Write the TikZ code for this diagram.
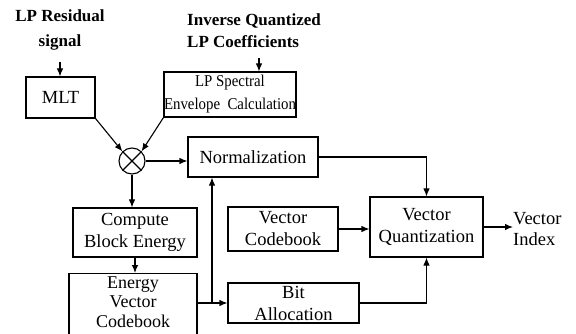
\documentclass[tikz,border=0pt]{standalone}
\usepackage{fontspec}
\setmainfont{Liberation Serif}
\newfontfamily\narrowserif[FakeStretch=0.9]{Liberation Serif}
\usetikzlibrary{arrows.meta}
\begin{document}
\begin{tikzpicture}[x=1pt,y=-1pt,
  box/.style={draw, line width=1.1pt, inner sep=0pt, align=center, font=\fontsize{18.5}{22}\selectfont},
  arr/.style={line width=1.1pt, -{Latex[length=8pt,width=6.5pt]}},
  ttl/.style={font=\bfseries\fontsize{17}{23}\selectfont, inner sep=0pt}]
\useasboundingbox (0,0) rectangle (576,334);
\clip (0,0) rectangle (576,334);
\node[box, minimum width=69pt, minimum height=41pt] (mlt) at (60.5,97.5) {MLT};
\node[box, minimum width=130pt, minimum height=45pt, font=\narrowserif\fontsize{16.5}{23}\selectfont] (lps) at (230,94.5) {LP Spectral\\Envelope\ \ Calculation};
\node[draw, circle, line width=1.1pt, minimum size=26pt, inner sep=0pt] (mul) at (132,161) {};
\draw[line width=1.1pt] (mul.north west) -- (mul.south east) (mul.north east) -- (mul.south west);
\node[box, minimum width=130pt, minimum height=40pt] (norm) at (253,157) {Normalization};
\node[box, minimum width=113pt, minimum height=60pt] (vq) at (426.5,227) {Vector\\Quantization};
\node[box, minimum width=110pt, minimum height=44pt] (vc) at (283,229) {Vector\\Codebook};
\node[box, minimum width=131pt, minimum height=40pt] (ba) at (293.5,303) {Bit\\Allocation};
\node[box, minimum width=124pt, minimum height=49pt] (cbe) at (135,232.5) {Compute\\Block Energy};
\node[box, minimum width=128pt, minimum height=64pt, anchor=north] (evc) at (133,273) {};
\node[align=center, inner sep=0pt, font=\fontsize{18}{19.5}\selectfont] (evct) at (133,302) {Energy\\Vector\\Codebook};
\node[ttl, align=center, font=\bfseries\fontsize{17}{25}\selectfont] (t1) at (60,29.5) {LP Residual\\signal};
\node[ttl, align=left, anchor=west, font=\bfseries\fontsize{17}{22}\selectfont] (t2) at (187,31) {Inverse Quantized\\LP Coefficients};
\node[align=left, anchor=west, inner sep=0pt, font=\fontsize{18.5}{21}\selectfont] (vi) at (513,229.5) {Vector\\Index};
\coordinate (a1) at (60,62);
\coordinate (a2) at (259,58);
\coordinate (j) at (212,0);
\draw[arr] (a1) -- (a1 |- mlt.north);
\draw[arr] (a2) -- (a2 |- lps.north);
\draw[arr] (mlt.south east) -- (mul.north west);
\draw[arr] (lps.south west) -- (mul.north east);
\draw[arr] (mul.east) -- (mul.east -| norm.west);
\draw[arr] (mul.south) -- (mul.south |- cbe.north);
\draw[arr] (cbe.south) -- (cbe.south |- evc.north);
\draw[arr] (ba.west -| evc.east) -- (ba.west);
\draw[arr] (j |- ba.west) -- (j |- norm.south);
\draw[arr] (norm.east) -| (vq.north);
\draw[arr] (vc.east) -- (vc.east -| vq.west);
\draw[arr] (ba.east) -| (vq.south);
\draw[arr] (vq.east) -- (vq.east -| vi.west);
\end{tikzpicture}
\end{document}
